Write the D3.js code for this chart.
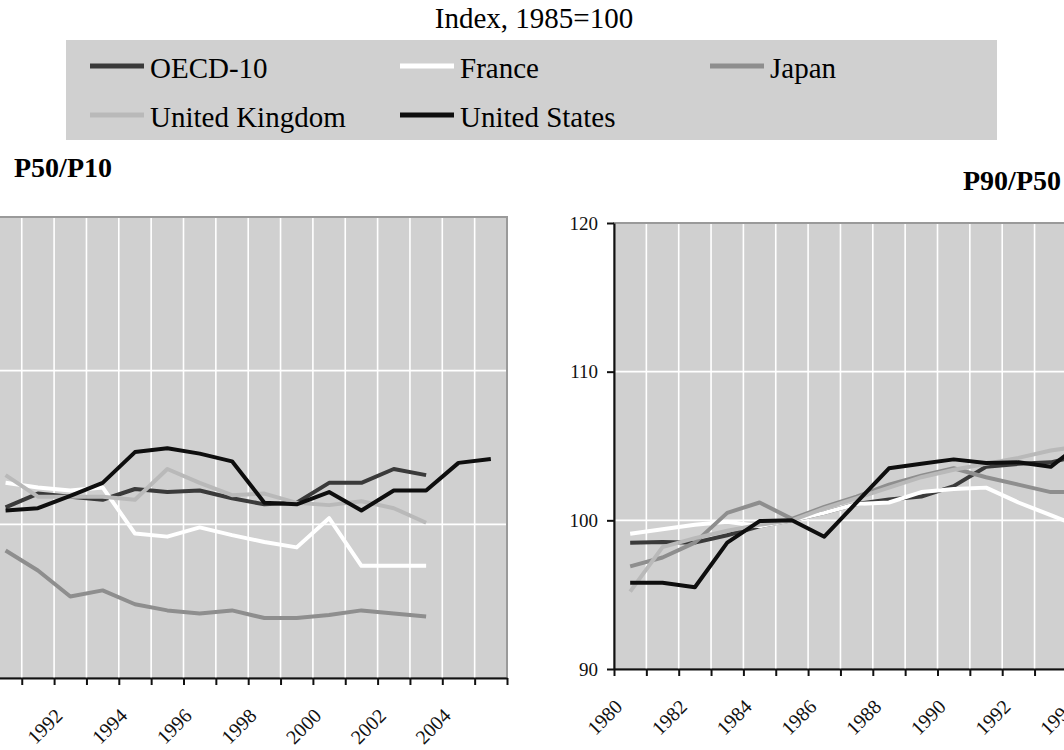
<!DOCTYPE html>
<html>
<head>
<meta charset="utf-8">
<script src="https://cdn.jsdelivr.net/npm/d3@7"></script>
<style>
    body { margin: 0; background: #fff; }
    svg text { font-family: "Liberation Serif", "Times New Roman", Times, "DejaVu Serif", serif; }
</style>
</head>
<body>
<div id="chart"></div>
<script>
// --- Data (Index, 1985=100) ---
const allYears = d3.range(1980, 2006);            // category axis, both panels
const tickLabelYears = d3.range(1980, 2006, 2);   // labelled every 2 years
const yTicks = [90, 100, 110, 120];

const seriesNames = ["OECD-10", "France", "Japan", "United Kingdom", "United States"];
const seriesColors = ["#3a3a3a", "#ffffff", "#8e8e8e", "#b9b9b9", "#0e0e0e"];

// P50/P10 (visible part of the left panel)
const yearsP5010 = d3.range(1990, 2006);
const oecdP5010 = [101.1, 102.0, 101.8, 101.6, 102.3, 102.1, 102.2, 101.7, 101.3, 101.4, 102.7, 102.7, 103.6, 103.2, null, null];
const franceP5010 = [102.7, 102.4, 102.2, 102.4, 99.4, 99.2, 99.8, 99.3, 98.85, 98.5, 100.4, 97.3, 97.3, 97.3, null, null];
const japanP5010 = [98.3, 97.0, 95.3, 95.7, 94.8, 94.4, 94.2, 94.4, 93.9, 93.9, 94.1, 94.4, 94.2, 94.0, null, null];
const ukP5010 = [103.2, 101.8, 101.8, 101.8, 101.6, 103.6, 102.7, 101.9, 102.0, 101.4, 101.25, 101.5, 101.05, 100.1, null, null];
const usP5010 = [100.9, 101.05, 101.85, 102.7, 104.7, 104.95, 104.6, 104.1, 101.4, 101.3, 102.1, 100.9, 102.2, 102.2, 104.0, 104.25];

// P90/P50 (visible part of the right panel)
const yearsP9050 = d3.range(1980, 1995);
const oecdP9050 = [98.5, 98.55, 98.5, 99.0, 99.6, 100.0, 100.5, 101.1, 101.4, 101.6, 102.3, 103.6, 103.8, 103.9, 104.4];
const franceP9050 = [99.1, 99.4, 99.7, 99.9, 99.6, 100.0, 100.5, 101.1, 101.2, 101.9, 102.1, 102.2, 101.2, 100.35, 99.5];
const japanP9050 = [96.9, 97.5, 98.5, 100.5, 101.2, 100.1, 100.9, 101.6, 102.4, 103.0, 103.5, 102.9, 102.4, 101.9, 101.9];
const ukP9050 = [95.2, 98.2, 98.8, 99.3, 99.7, 100.0, 100.8, 101.5, 102.2, 102.9, 103.4, 103.8, 104.2, 104.7, 105.0];
const usP9050 = [95.8, 95.8, 95.5, 98.5, 99.95, 100.0, 98.9, 101.2, 103.5, 103.8, 104.1, 103.85, 103.9, 103.6, 105.3];

const SERIF = '"Liberation Serif", "Times New Roman", Times, "DejaVu Serif", serif';

const svg = d3.select("#chart").append("svg")
    .attr("width", 1064)
    .attr("height", 750)
    .attr("font-family", SERIF);

// Title
svg.append("text")
    .attr("x", 534).attr("y", 28)
    .attr("text-anchor", "middle")
    .attr("font-family", SERIF)
    .style("font-size", "29px")
    .text("Index, 1985=100");

// Legend box
const legend = svg.append("g");
legend.append("rect")
    .attr("x", 66).attr("y", 40)
    .attr("width", 931).attr("height", 100)
    .attr("fill", "#d0d0d0");

const legendCols = [90, 400, 710];
const legendRows = [66, 115];
seriesNames.forEach((name, i) => {
    const sx = legendCols[i % 3];
    const sy = legendRows[Math.floor(i / 3)];
    legend.append("line")
        .attr("x1", sx).attr("x2", sx + 54)
        .attr("y1", sy).attr("y2", sy)
        .attr("stroke", seriesColors[i])
        .attr("stroke-width", 5);
    legend.append("text")
        .attr("x", sx + 60).attr("y", sy + 12)
        .attr("font-family", SERIF)
        .style("font-size", "29px")
        .text(name);
});

// One panel: plot area, grid, axes and the five lines
function drawPanel(opts) {
    const band = 32.35;
    const x = d3.scaleLinear()
        .domain([allYears[0], allYears[allYears.length - 1] + 1])
        .range([opts.left, opts.left + allYears.length * band]);
    const y = d3.scaleLinear()
        .domain([90, 120])
        .range([opts.bottom, opts.top]);

    const g = svg.append("g");
    const x0 = x.range()[0], x1 = x.range()[1];

    g.append("rect")
        .attr("x", x0).attr("y", opts.top)
        .attr("width", x1 - x0).attr("height", opts.bottom - opts.top)
        .attr("fill", "#d0d0d0")
        .attr("stroke", "#9a9a9a")
        .attr("stroke-width", 2);

    // vertical grid at category boundaries
    g.selectAll(".vgrid")
        .data(allYears.slice(1))
        .enter().append("line")
        .attr("x1", d => x(d)).attr("x2", d => x(d))
        .attr("y1", opts.top + 1).attr("y2", opts.bottom)
        .attr("stroke", "#fff")
        .attr("stroke-width", 1.6);

    g.selectAll(".hgrid")
        .data([100, 110])
        .enter().append("line")
        .attr("x1", x0).attr("x2", x1 - 1)
        .attr("y1", d => y(d)).attr("y2", d => y(d))
        .attr("stroke", "#fff")
        .attr("stroke-width", 1.6);

    // lines
    const line = d3.line()
        .defined(d => d.v != null)
        .x(d => x(d.year + 0.5))
        .y(d => y(d.v));

    opts.series.forEach((vals, i) => {
        const pts = opts.years.map((yr, k) => ({ year: yr, v: vals[k] }));
        g.append("path")
            .attr("d", line(pts))
            .attr("fill", "none")
            .attr("stroke", seriesColors[i])
            .attr("stroke-width", 4)
            .attr("stroke-linejoin", "round");
    });

    // x axis: tick marks at boundaries
    const xAxis = g.append("g")
        .attr("transform", `translate(0,${opts.bottom})`)
        .call(d3.axisBottom(x)
            .tickValues(d3.range(allYears[0], allYears[allYears.length - 1] + 2))
            .tickSize(7)
            .tickSizeOuter(0)
            .tickFormat(""));
    xAxis.select(".domain").attr("stroke", "#111").attr("stroke-width", 2);
    xAxis.selectAll(".tick line").attr("stroke", "#111").attr("stroke-width", 2);

    // x labels, rotated, every other year (only those inside the page)
    const shownLabels = tickLabelYears.filter(d => x(d + 0.5) > 20 && x(d + 0.5) < 1100);
    const xLabels = g.append("g")
        .attr("transform", `translate(0,${opts.bottom})`)
        .attr("font-family", SERIF)
        .call(d3.axisBottom(x)
            .tickValues(shownLabels.map(d => d + 0.5))
            .tickSize(0)
            .tickFormat(d => Math.floor(d)));
    xLabels.attr("font-family", SERIF);
    xLabels.select(".domain").remove();
    xLabels.selectAll("text")
        .style("font-size", "20px")
        .attr("fill", "#111")
        .attr("text-anchor", "end")
        .attr("dy", null)
        .attr("y", 0)
        .attr("transform", "translate(-7,39) rotate(-45)");

    // y axis (the left panel's one falls outside the page)
    if (x0 > 0) {
        const yAxis = g.append("g")
            .attr("transform", `translate(${x0},0)`)
            .call(d3.axisLeft(y).tickValues(yTicks).tickSize(7).tickSizeOuter(0).tickPadding(9));
        yAxis.attr("font-family", SERIF);
        yAxis.select(".domain").attr("stroke", "#111").attr("stroke-width", 2);
        yAxis.selectAll(".tick line").attr("stroke", "#111").attr("stroke-width", 2);
        yAxis.selectAll("text")
            .style("font-size", "19px")
            .attr("fill", "#111");
    }

    svg.append("text")
        .attr("x", opts.titleX).attr("y", opts.titleY)
        .attr("font-family", SERIF)
        .style("font-size", "28px")
        .style("font-weight", "bold")
        .text(opts.title);
}

drawPanel({
    left: 507 - allYears.length * 32.35, top: 217, bottom: 678,
    years: yearsP5010,
    series: [oecdP5010, franceP5010, japanP5010, ukP5010, usP5010],
    title: "P50/P10", titleX: 14, titleY: 177
});

drawPanel({
    left: 614, top: 223, bottom: 669,
    years: yearsP9050,
    series: [oecdP9050, franceP9050, japanP9050, ukP9050, usP9050],
    title: "P90/P50", titleX: 963, titleY: 190
});
</script>
</body>
</html>
